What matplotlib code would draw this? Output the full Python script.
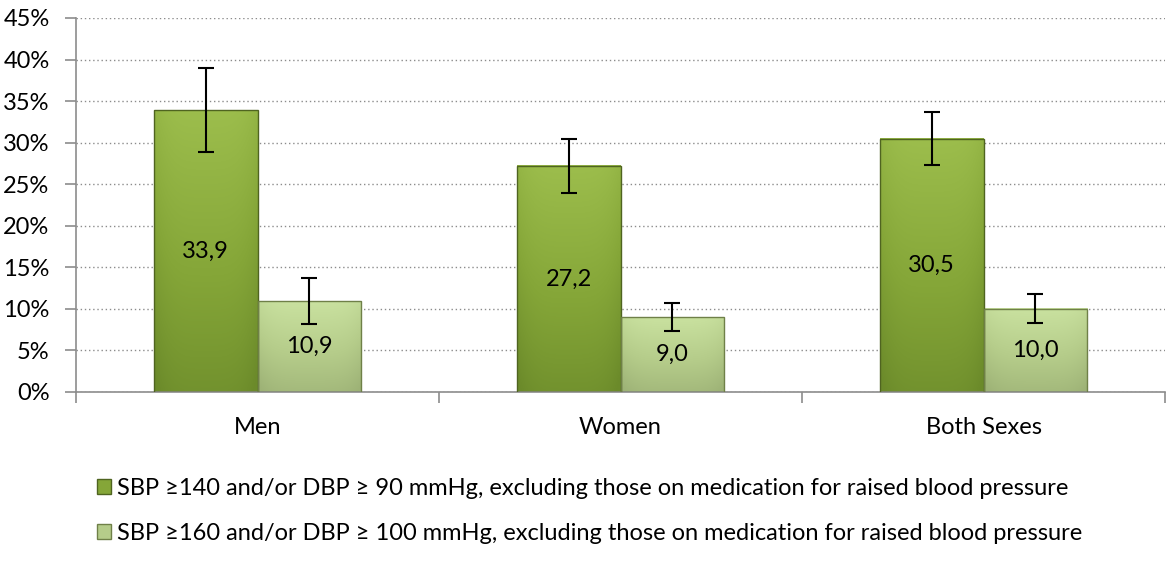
import numpy as np
import matplotlib
matplotlib.use('Agg')
import matplotlib.pyplot as plt
from matplotlib.patches import Rectangle
from matplotlib.colors import LinearSegmentedColormap

plt.rcParams['font.family'] = ['Lato', 'DejaVu Sans']

# Data
groups = ['Men', 'Women', 'Both Sexes']
series_labels = [
    'SBP \u2265140 and/or DBP \u2265 90 mmHg, excluding those on medication for raised blood pressure',
    'SBP \u2265160 and/or DBP \u2265 100 mmHg, excluding those on medication for raised blood pressure',
]
sbp140 = [33.9, 27.2, 30.5]
sbp140_lo = [28.9, 23.9, 27.3]
sbp140_hi = [39.0, 30.5, 33.7]
sbp160 = [10.9, 9.0, 10.0]
sbp160_lo = [8.2, 7.3, 8.3]
sbp160_hi = [13.7, 10.7, 11.8]

# Styling
dark_cmap = LinearSegmentedColormap.from_list('dark', ['#6b8a2a', '#85a638', '#9cbd4c'])
light_cmap = LinearSegmentedColormap.from_list('light', ['#9db276', '#b5cc8a', '#c9e19f'])
edge_dark = '#4f6420'
edge_light = '#6f8048'
fs = 17

fig = plt.figure(figsize=(11.67, 5.63), dpi=100)
ax = fig.add_axes([76 / 1167, 1 - 392 / 563, (1165 - 76) / 1167, (392 - 18) / 563])

x = np.arange(len(groups))
w = 0.285


def gradient_bar(ax, x0, width, height, cmap, edge):
    # vertical gradient, lighter at top, slightly darker towards the sides
    ny, nx = 64, 32
    yy = np.linspace(0, 1, ny)[:, None]
    xx = np.linspace(-1, 1, nx)[None, :]
    z = yy * 0.85 + 0.15 - 0.18 * xx ** 4
    z = np.clip(z, 0, 1)
    ax.imshow(z, cmap=cmap, origin='lower', aspect='auto', vmin=0, vmax=1,
              extent=[x0, x0 + width, 0, height], zorder=2, interpolation='bilinear')
    ax.add_patch(Rectangle((x0, 0), width, height, fill=False, edgecolor=edge,
                           linewidth=1.0, zorder=3))


for i in range(len(groups)):
    gradient_bar(ax, x[i] - w, w, sbp140[i], dark_cmap, edge_dark)
    gradient_bar(ax, x[i], w, sbp160[i], light_cmap, edge_light)
    ax.text(x[i] - w / 2, sbp140[i] / 2, f'{sbp140[i]:.1f}'.replace('.', ','),
            ha='center', va='center', fontsize=fs, zorder=5)
    ax.text(x[i] + w / 2, sbp160[i] / 2, f'{sbp160[i]:.1f}'.replace('.', ','),
            ha='center', va='center', fontsize=fs, zorder=5)

err140 = [np.subtract(sbp140, sbp140_lo), np.subtract(sbp140_hi, sbp140)]
err160 = [np.subtract(sbp160, sbp160_lo), np.subtract(sbp160_hi, sbp160)]
ax.errorbar(x - w / 2, sbp140, yerr=err140, fmt='none', ecolor='black',
            elinewidth=1.5, capsize=6, capthick=1.5, zorder=6)
ax.errorbar(x + w / 2, sbp160, yerr=err160, fmt='none', ecolor='black',
            elinewidth=1.5, capsize=6, capthick=1.5, zorder=6)

ax.set_xlim(-0.5, 2.5)
ax.set_ylim(0, 45)
ax.set_yticks(np.arange(0, 46, 5))
ax.set_yticklabels([f'{v}%' for v in range(0, 46, 5)])
ax.yaxis.grid(True, linestyle=(0, (1, 2)), color='#8c8c8c', linewidth=1.0)
ax.set_axisbelow(True)

ax.set_xticks(x)
ax.set_xticklabels(groups)
ax.set_xticks([-0.5, 0.5, 1.5, 2.5], minor=True)
ax.tick_params(axis='x', which='major', length=0, pad=18, labelsize=fs)
ax.tick_params(axis='x', which='minor', length=8, color='#8c8c8c', width=1.2)
ax.tick_params(axis='y', length=8, color='#8c8c8c', width=1.2, labelsize=fs, pad=11)

for s in ['top', 'right']:
    ax.spines[s].set_visible(False)
for s in ['left', 'bottom']:
    ax.spines[s].set_color('#8c8c8c')
    ax.spines[s].set_linewidth(1.2)

# Legend
handles = [Rectangle((0, 0), 1, 1, facecolor='#85a638', edgecolor=edge_dark),
           Rectangle((0, 0), 1, 1, facecolor='#b5cc8a', edgecolor=edge_light)]
fig.legend(handles, series_labels, loc='center', bbox_to_anchor=(0.505, 1 - 511 / 563),
           frameon=False, fontsize=fs, handlelength=0.6, handleheight=0.6,
           handletextpad=0.25, labelspacing=1.0)

fig.savefig('out.png', dpi=100)
